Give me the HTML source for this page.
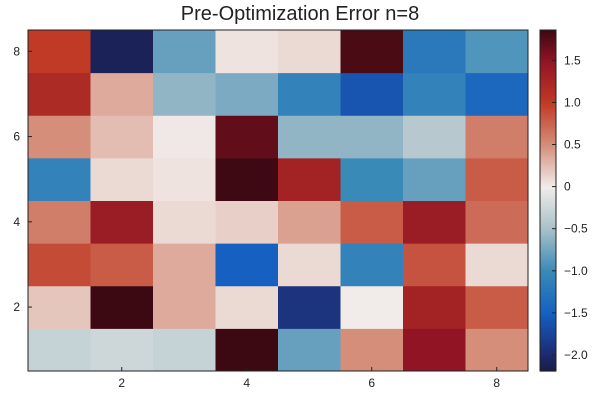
<!DOCTYPE html>
<html><head><meta charset="utf-8"><style>
body{margin:0;background:#fff;font-family:"Liberation Sans",sans-serif;}
svg text{font-family:"Liberation Sans",sans-serif;}
</style></head><body>
<svg id="chart" width="600" height="400">
<text x="300" y="20" text-anchor="middle" font-size="20" fill="#222">Pre-Optimization Error n=8</text>
<g id="cells"></g>
<g id="axes"></g>
<g id="cbar"></g>
</svg>
<script>
const xCategories=[1,2,3,4,5,6,7,8];
const yCategories=[1,2,3,4,5,6,7,8];
// rows from y=1 (bottom) to y=8 (top)
const row1=[-0.3,-0.25,-0.3,1.9,-0.8,0.5,1.5,0.5];
const row2=[0.2,1.9,0.35,0.1,-1.9,0.0,1.3,0.8];
const row3=[0.9,0.8,0.35,-1.5,0.1,-1.1,0.85,0.1];
const row4=[0.6,1.4,0.1,0.15,0.4,0.8,1.4,0.7];
const row5=[-1.1,0.1,0.05,1.85,1.3,-1.0,-0.8,0.8];
const row6=[0.5,0.25,0.02,1.7,-0.6,-0.6,-0.4,0.6];
const row7=[1.2,0.35,-0.6,-0.7,-1.1,-1.6,-1.1,-1.4];
const row8=[1.0,-2.1,-0.8,0.05,0.1,1.8,-1.2,-0.9];
const rows=[row1,row2,row3,row4,row5,row6,row7,row8];
const xTicks=[2,4,6,8];
const yTicks=[2,4,6,8];
const cbTicks=[1.5,1.0,0.5,0,-0.5,-1.0,-1.5,-2.0];
const cbLabels=["1.5","1.0","0.5","0","−0.5","−1.0","−1.5","−2.0"];
const vmin=-2.19, vmax=1.86;

const L=28,R=528,T=30,B=371;
const cw=(R-L)/xCategories.length, ch=(B-T)/yCategories.length;
const xs=v=>L+(v-0.5)*cw;
const ys=v=>B-(v-0.5)*ch;
const stops=[[-2.19,[24,28,67]],[-2.0,[30,40,110]],[-1.5,[21,96,192]],[-1.0,[58,138,184]],[-0.5,[168,192,200]],[0,[241,236,234]],[0.5,[212,142,122]],[1.0,[192,58,37]],[1.5,[144,20,36]],[1.86,[60,9,18]]];
function color(v){
  if(v<=stops[0][0])return'rgb('+stops[0][1]+')';
  for(let i=1;i<stops.length;i++){if(v<=stops[i][0]){const a=stops[i-1],b=stops[i];const t=(v-a[0])/(b[0]-a[0]);
    return'rgb('+a[1].map((c,k)=>Math.round(c+(b[1][k]-c)*t)).join(',')+')';}}
  return'rgb('+stops[stops.length-1][1]+')';
}
const NS='http://www.w3.org/2000/svg';
function mk(tag,attrs,parent){const e=document.createElementNS(NS,tag);for(const k in attrs)e.setAttribute(k,attrs[k]);parent.appendChild(e);return e;}
const cells=document.getElementById('cells');
rows.forEach((r,yi)=>r.forEach((v,xi)=>{
  const e=mk('rect',{x:xs(xCategories[xi])-cw/2,y:ys(yCategories[yi])-ch/2,width:cw+0.5,height:ch+0.5,fill:color(v)},cells);
  
  
}));
const ax=document.getElementById('axes');
let fr=mk('rect',{x:L,y:T,width:R-L,height:B-T,fill:'none',stroke:'#222','stroke-width':1},ax);


xTicks.forEach(t=>{
  mk('line',{x1:xs(t),x2:xs(t),y1:B,y2:B-4,stroke:'#222'},ax);
  const e=mk('text',{x:xs(t),y:B+16,'text-anchor':'middle','font-size':12,fill:'#222'},ax);e.textContent=t;
  
  
});
yTicks.forEach(t=>{
  mk('line',{x1:L,x2:L+4,y1:ys(t),y2:ys(t),stroke:'#222'},ax);
  const e=mk('text',{x:L-8,y:ys(t)+4,'text-anchor':'end','font-size':12,fill:'#222'},ax);e.textContent=t;
  
  
});
const cb=document.getElementById('cbar');
const cx=540,cwid=16;
const cy=v=>B-(v-vmin)/(vmax-vmin)*(B-T);
for(let i=0;i<200;i++){const v0=vmin+(vmax-vmin)*i/200,v1=vmin+(vmax-vmin)*(i+1)/200;
  mk('rect',{x:cx,y:cy(v1),width:cwid,height:cy(v0)-cy(v1)+0.6,fill:color((v0+v1)/2)},cb);}
let cbf=mk('rect',{x:cx,y:T,width:cwid,height:B-T,fill:'none',stroke:'#222'},cb);


cbTicks.forEach((t,i)=>{
  mk('line',{x1:cx+cwid-4,x2:cx+cwid,y1:cy(t),y2:cy(t),stroke:'#222'},cb);
  const e=mk('text',{x:cx+cwid+8,y:cy(t)+4,'font-size':12,fill:'#222'},cb);e.textContent=cbLabels[i];
  
  
});
</script>
</body></html>
